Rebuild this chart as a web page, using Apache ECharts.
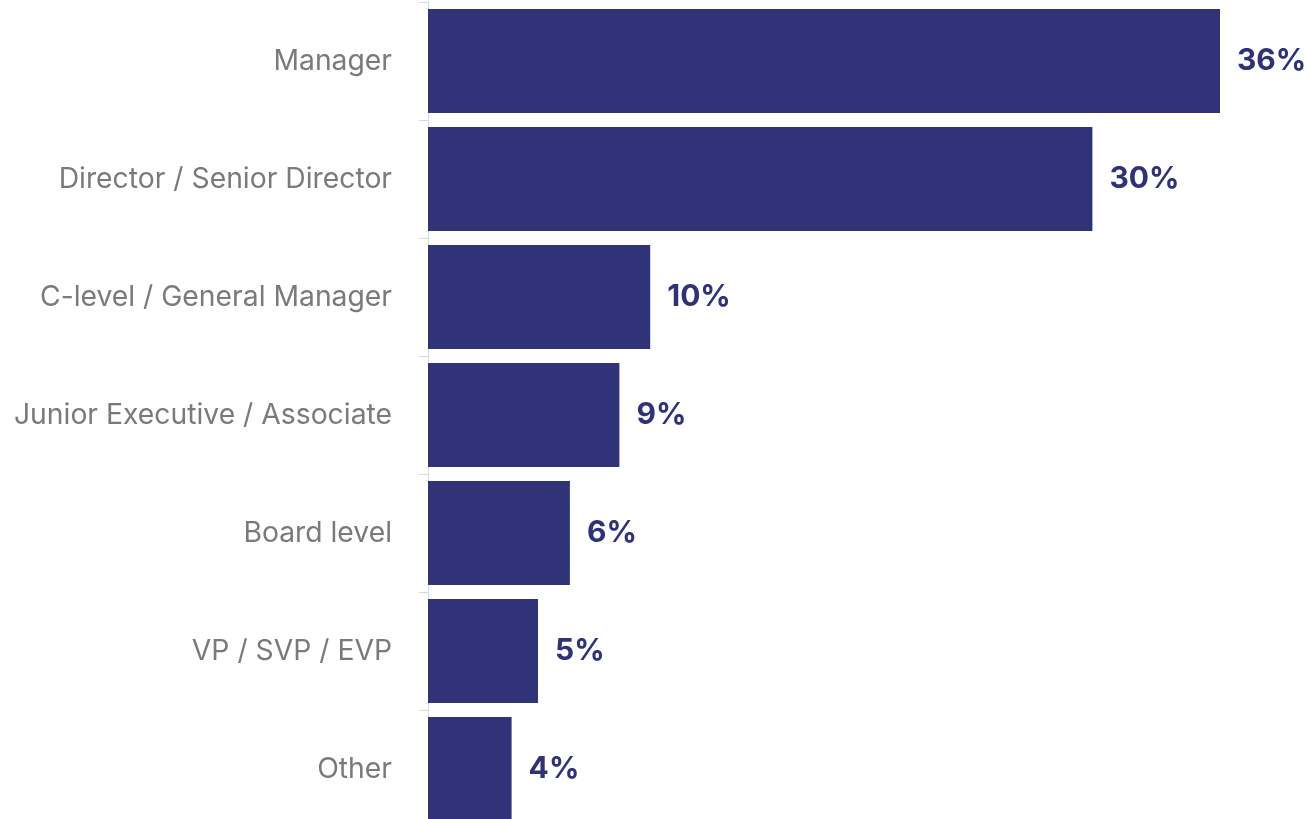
<!DOCTYPE html>
<html>
<head>
<meta charset="utf-8">
<script src="https://cdn.jsdelivr.net/npm/echarts@6/dist/echarts.min.js"></script>
<style>
  html, body { margin: 0; padding: 0; background: #fff; }
  #app { width: 1309px; height: 819px; }
</style>
</head>
<body>
<div id="app"></div>
<script>
// job levels, top to bottom
const roles = ['Manager', 'Director / Senior Director', 'C-level / General Manager',
  'Junior Executive / Associate', 'Board level', 'VP / SVP / EVP', 'Other'];
// share of respondents (%)
const shares = [36.0, 30.2, 10.1, 8.7, 6.45, 5.0, 3.8];

let chart = echarts.init(document.getElementById('app'));
chart.setOption({
	backgroundColor: '#fff',
	animation: false,
	grid: {
		left: 428,
		top: 2,
		width: 880,
		height: 826,
		outerBoundsMode: 'none'
	},
	xAxis: {
		type: 'value',
		min: 0,
		max: 40,
		show: false
	},
	yAxis: {
		type: 'category',
		data: roles,
		inverse: true,
		axisLine: {
			lineStyle: { color: '#d6d6e8', width: 1 }
		},
		axisTick: {
			show: true,
			length: 9,
			lineStyle: { color: '#d6d6e8', width: 1 }
		},
		axisLabel: {
			margin: 36,
			fontFamily: 'Inter',
			fontSize: 28.3,
			color: '#7a7a7a'
		}
	},
	series: [{
		type: 'bar',
		data: shares,
		barCategoryGap: '12%',
		itemStyle: { color: '#313378' },
		label: {
			show: true,
			position: 'right',
			distance: 17,
			fontFamily: 'Inter',
			fontWeight: 'bold',
			fontSize: 30,
			color: '#2f3276',
			formatter: p => Math.round(p.value) + '%'
		}
	}]
});
</script>
</body>
</html>
